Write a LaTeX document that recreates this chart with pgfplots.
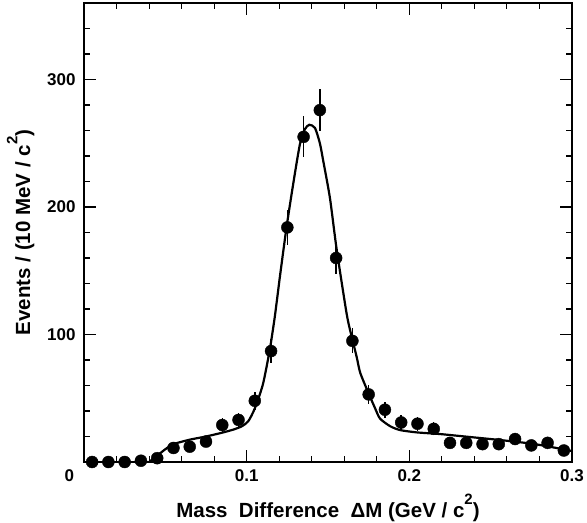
\documentclass[border=0pt]{standalone}
\usepackage{fontspec}
\setmainfont{Liberation Sans}
\usepackage{pgfplots}
\pgfplotsset{compat=1.18}
\usetikzlibrary{calc}

\newcommand{\lbl}{\fontsize{17}{20}\selectfont\bfseries}
\newcommand{\axlbl}{\fontsize{20.5}{25}\selectfont\bfseries}

\begin{document}
\begin{tikzpicture}
\begin{axis}[
    scale only axis,
    width=488pt, height=459pt,
    xmin=0, xmax=0.3, ymin=0, ymax=360,
    axis line style={line width=1.6pt},
    tick style={line width=1.1pt, black},
    tick align=inside,
    major tick length=12pt, minor tick length=6pt,
    xtick={0,0.1,0.2,0.3},
    xticklabels={\makebox[0pt][r]{0\hspace{10pt}},0.1,0.2,0.3},
    minor xtick={0.02,0.04,...,0.29},
    ytick={0,100,200,300},
    yticklabels={,100,200,300},
    minor ytick={20,40,...,350},
    /pgf/number format/assume math mode=true,
    tick label style={font=\lbl},
    xticklabel style={yshift=-4pt},
    yticklabel style={xshift=-5pt},
    every axis y label/.style={at={(axis description cs:-0.13,0.5)}, anchor=center, rotate=90, font=\axlbl},
    every axis x label/.style={at={(axis description cs:0.5,-0.1)}, anchor=center, font=\axlbl},
    xlabel={Mass\ \ Difference\ \ ΔM (GeV / c\raisebox{0.62em}{\fontsize{15}{15}\selectfont 2})},
    ylabel={Events / (10 MeV / c\raisebox{0.62em}{\fontsize{15}{15}\selectfont 2})},
]
% fit curve
\addplot[black, line width=2.2pt, smooth, tension=0.4] coordinates {
    (0.040,0) (0.045,5) (0.050,10) (0.055,14) (0.065,17.5) (0.075,20)
    (0.085,23) (0.092,25.5) (0.097,28) (0.101,32) (0.105,42) (0.110,61) (0.1142,88)
    (0.1173,114) (0.1204,145) (0.1245,184) (0.1286,218) (0.1327,249)
    (0.1358,261) (0.1385,264.5) (0.142,262) (0.145,250) (0.1471,236)
    (0.1512,207) (0.1553,167) (0.1615,116) (0.1646,98) (0.1677,82)
    (0.1698,70) (0.1749,54) (0.179,42) (0.182,34) (0.1883,28) (0.1944,25)
    (0.2047,23.2) (0.219,21.9) (0.2356,19.8) (0.256,17.2) (0.2767,14.1)
    (0.297,9.4) (0.300,8.5)
};
% data points
\addplot[black, only marks, mark=*, mark size=6pt,
    error bars/.cd, y dir=both, y explicit, error mark=none,
    error bar style={line width=1.5pt}]
    table[x=x, y=y, y error=e] {
x      y    e
0.005  0    0
0.015  0    0
0.025  0    0
0.035  1    1
0.045  3    1.7
0.055  11   3.3
0.065  12   3.5
0.075  16   4
0.085  29   5.4
0.095  33   5.7
0.105  48   6.9
0.115  87   9.3
0.125  184  13.6
0.135  255  16
0.145  276  16.6
0.155  160  12.6
0.165  95   9.7
0.175  53   7.3
0.185  41   6.4
0.195  31   5.6
0.205  30   5.5
0.215  26   5.1
0.225  15   3.9
0.235  15   3.9
0.245  14   3.7
0.255  14   3.7
0.265  18   4.2
0.275  13   3.6
0.285  15   3.9
0.295  9    3
};
\end{axis}
\pgfresetboundingbox
\path ($(current axis.south west)+(-84pt,-61pt)$) rectangle ($(current axis.north east)+(15pt,3pt)$);
\end{tikzpicture}
\end{document}
